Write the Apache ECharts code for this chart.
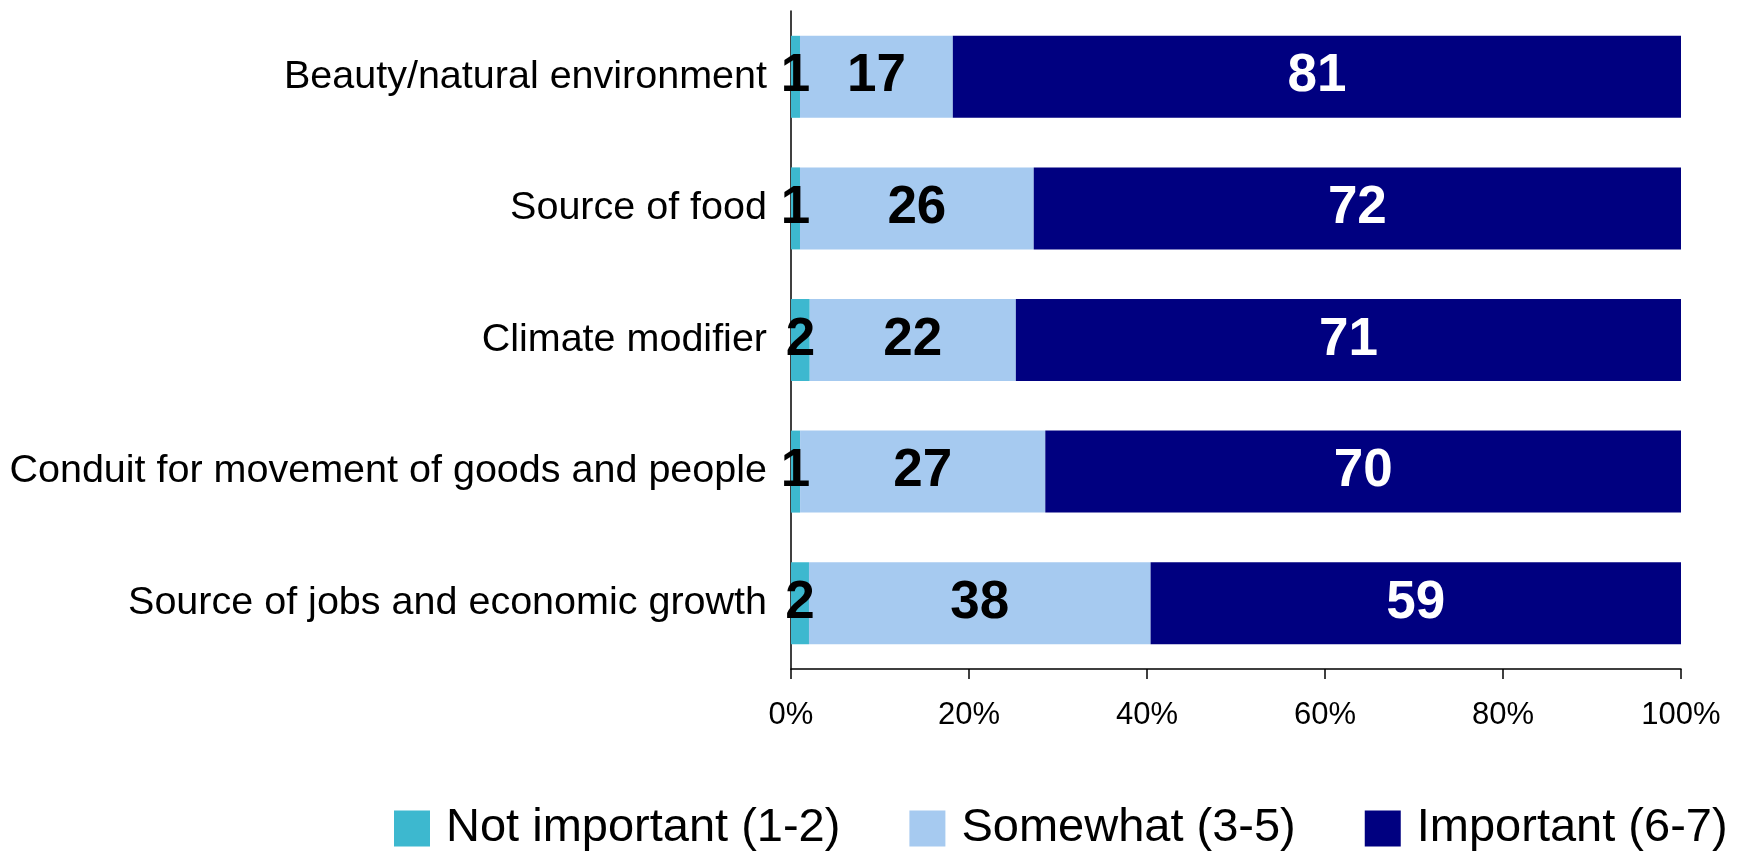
<!DOCTYPE html>
<html>
<head>
<meta charset="utf-8">
<style>
  html, body { margin: 0; padding: 0; background: #ffffff; }
  #chart { width: 1750px; height: 855px; }
</style>
<script src="https://cdn.jsdelivr.net/npm/echarts@6/dist/echarts.min.js"></script>
</head>
<body>
<div id="chart"></div>
<script>
// Importance ratings of the water body, share of respondents (%)
const categories = [
  'Beauty/natural environment',
  'Source of food',
  'Climate modifier',
  'Conduit for movement of goods and people',
  'Source of jobs and economic growth'
];
const notImportant = [1, 1, 2, 1, 2];
const somewhat = [17, 26, 22, 27, 38];
const important = [81, 72, 71, 70, 59];
const seriesNames = ['Not important (1-2)', 'Somewhat (3-5)', 'Important (6-7)'];
const tickValues = [0, 20, 40, 60, 80, 100];

const rawSeries = [notImportant, somewhat, important];
const colors = ['#3DB8CF', '#A6CAF0', '#000080'];
const labelColors = ['#000000', '#000000', '#ffffff'];

// 100% stacked: each row is scaled to its own total
const totals = categories.map((_, i) => rawSeries.reduce((s, arr) => s + arr[i], 0));

const baseFont = "'Liberation Sans', Arial, sans-serif";

const chart = echarts.init(document.getElementById('chart'), null, { renderer: 'canvas' });

chart.setOption({
  animation: false,
  backgroundColor: '#ffffff',
  grid: {
    left: 791, right: 69, top: 11, bottom: 186,
    containLabel: false,
    outerBoundsMode: 'none'
  },
  legend: {
    left: 389,
    top: 800,
    itemWidth: 36,
    itemHeight: 36,
    itemGap: 69,
    icon: 'rect',
    textStyle: { fontFamily: baseFont, fontSize: 47, color: '#000000', padding: [0, 0, 0, 11] },
    data: seriesNames
  },
  xAxis: {
    type: 'value',
    min: tickValues[0],
    max: tickValues[tickValues.length - 1],
    interval: 20,
    axisLine: { show: true, lineStyle: { color: '#000000', width: 1.5 } },
    axisTick: { show: true, length: 10, lineStyle: { color: '#000000', width: 1.5 } },
    splitLine: { show: false },
    axisLabel: {
      formatter: '{value}%',
      fontFamily: baseFont,
      fontSize: 31,
      color: '#000000',
      margin: 31
    }
  },
  yAxis: {
    type: 'category',
    inverse: true,
    data: categories,
    axisLine: { show: true, lineStyle: { color: '#000000', width: 1.5 } },
    axisTick: { show: false },
    axisLabel: {
      fontFamily: baseFont,
      fontSize: 39.5,
      color: '#000000',
      margin: 24
    }
  },
  series: rawSeries.map((arr, k) => ({
    name: seriesNames[k],
    type: 'bar',
    stack: 'total',
    barWidth: 82,
    itemStyle: { color: colors[k] },
    label: {
      show: true,
      position: 'inside',
      formatter: (p) => String(arr[p.dataIndex]),
      fontFamily: baseFont,
      fontWeight: 'bold',
      fontSize: 53,
      color: labelColors[k]
    },
    data: arr.map((v, i) => v / totals[i] * 100)
  }))
});
</script>
</body>
</html>
